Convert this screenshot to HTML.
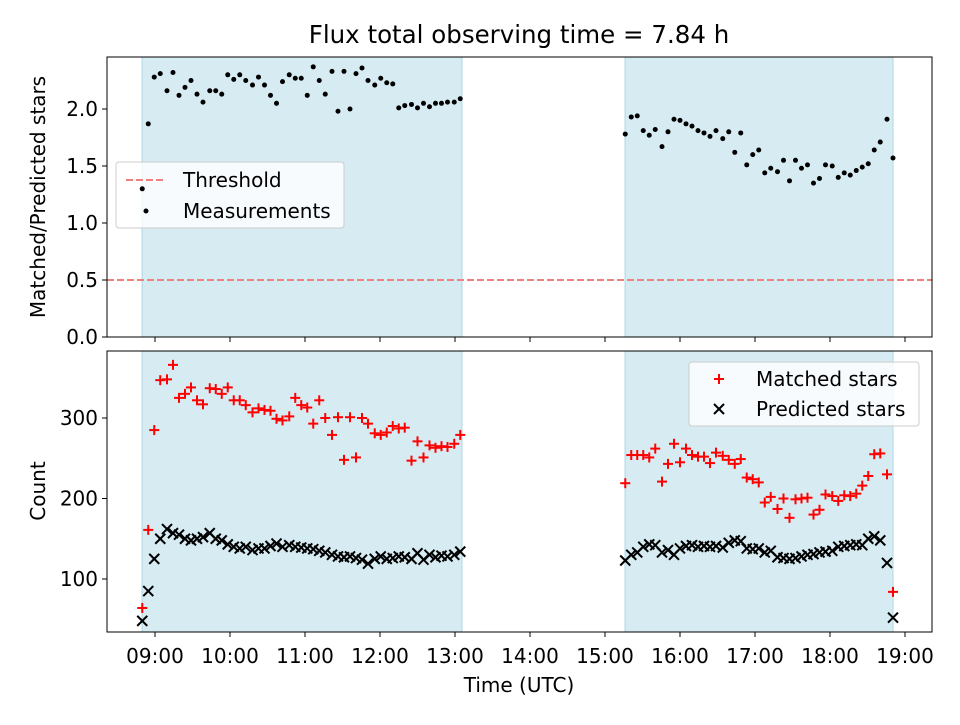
<!DOCTYPE html>
<html><head><meta charset="utf-8"><style>
body{margin:0;background:#fff;}
svg{font-family:"DejaVu Sans","Liberation Sans",sans-serif;}
</style></head><body>
<svg id="c" width="960" height="720" viewBox="0 0 960 720"></svg>
<script>
const times1=[8.83,8.91,8.99,9.07,9.16,9.24,9.32,9.40,9.48,9.56,9.64,9.73,9.81,9.89,9.97,10.05,10.13,10.21,10.30,10.38,10.46,10.54,10.62,10.70,10.79,10.87,10.95,11.03,11.11,11.19,11.27,11.36,11.44,11.52,11.60,11.68,11.76,11.84,11.93,12.01,12.09,12.17,12.25,12.33,12.42,12.50,12.58,12.66,12.74,12.82,12.90,12.99,13.07];
const times2=[15.27,15.35,15.43,15.51,15.59,15.67,15.76,15.84,15.92,16.00,16.08,16.16,16.24,16.32,16.40,16.48,16.57,16.65,16.73,16.81,16.89,16.97,17.05,17.13,17.21,17.30,17.38,17.46,17.54,17.62,17.70,17.78,17.86,17.94,18.03,18.11,18.19,18.27,18.35,18.43,18.51,18.59,18.67,18.76,18.84];
const ratio1=[1.30,1.87,2.28,2.31,2.16,2.32,2.12,2.19,2.25,2.13,2.06,2.16,2.16,2.13,2.30,2.26,2.30,2.25,2.21,2.28,2.21,2.12,2.05,2.24,2.30,2.27,2.27,2.12,2.37,2.25,2.13,2.33,1.98,2.33,2.00,2.31,2.36,2.25,2.21,2.27,2.23,2.22,2.01,2.03,2.04,2.01,2.05,2.02,2.05,2.05,2.06,2.06,2.09];
const ratio2=[1.78,1.93,1.94,1.81,1.77,1.82,1.67,1.80,1.91,1.90,1.87,1.85,1.81,1.79,1.76,1.81,1.74,1.80,1.62,1.79,1.51,1.60,1.64,1.44,1.48,1.45,1.55,1.37,1.55,1.48,1.51,1.35,1.39,1.51,1.50,1.40,1.44,1.42,1.46,1.49,1.52,1.64,1.71,1.91,1.57];
const matched1=[64,161,285,347,348,366,325,330,338,322,317,337,336,330,338,322,322,316,307,312,310,309,299,297,302,325,316,313,293,322,300,279,301,248,301,251,300,293,281,279,282,290,287,288,247,271,251,266,263,265,264,268,279];
const matched2=[219,254,254,254,251,262,221,243,268,245,262,254,252,252,244,257,253,248,243,249,226,224,220,195,202,187,200,176,199,200,201,180,186,205,203,197,204,203,206,216,228,255,256,230,84];
const predicted1=[48,85,125,150,162,157,155,150,148,150,152,157,150,148,143,140,138,140,136,138,138,141,144,140,142,140,139,138,137,135,133,130,128,127,128,126,124,119,125,128,125,126,128,127,125,132,124,130,127,129,128,130,134];
const predicted2=[123,130,133,140,143,142,133,136,130,138,141,142,140,141,140,141,139,145,148,147,138,137,138,133,135,127,126,125,126,128,130,131,133,134,135,140,141,142,143,142,150,153,148,120,52];
const spans=[[8.827,13.093],[15.267,18.84]];
const hourTicks=[9,10,11,12,13,14,15,16,17,18,19];
const ratioTicks=[0,0.5,1.0,1.5,2.0];
const countTicks=[100,200,300];
const threshold=0.5;

const svg=document.getElementById('c');
const NS='http://www.w3.org/2000/svg';
function el(tag,attrs,parent){const e=document.createElementNS(NS,tag);for(const k in attrs)e.setAttribute(k,attrs[k]);(parent||svg).appendChild(e);return e;}
const X=h=>155+(h-9)*75;
const Y1=v=>337-v*114;
const Y2=v=>579-(v-100)*0.805;
const L=107,R=932;
const FS=20;
const panels=[{t:57,b:337,Y:Y1,ticks:ratioTicks,fmt:v=>v.toFixed(1),name:'top'},{t:351,b:632,Y:Y2,ticks:countTicks,fmt:v=>String(v),name:'bottom'}];
panels.forEach(p=>{
  const g=el('g',{});
  
  
  spans.forEach(s=>{const r=el('rect',{x:X(s[0]),y:p.t,width:X(s[1])-X(s[0]),height:p.b-p.t,fill:'#add8e6','fill-opacity':0.5,stroke:'#add8e6'},g);
    });
  p.ticks.forEach(v=>{const y=p.Y(v);el('line',{x1:L-5,x2:L,y1:y,y2:y,stroke:'#000'},g);
    const t=el('text',{x:L-9,y:y+7,'text-anchor':'end','font-size':FS},g);t.textContent=p.fmt(v);
    });
  hourTicks.forEach(h=>{el('line',{x1:X(h),x2:X(h),y1:p.b,y2:p.b+5,stroke:'#000'},g);});
});
const th=el('line',{x1:L,x2:R,y1:Y1(threshold),y2:Y1(threshold),stroke:'#f08080','stroke-width':2,'stroke-dasharray':'7,3'});

function plus(x,y,col,name){const g=el('g',{stroke:col,'stroke-width':2});el('line',{x1:x-5,x2:x+5,y1:y,y2:y},g);el('line',{x1:x,x2:x,y1:y-5,y2:y+5},g);
  return g;}
function cross(x,y,name){const g=el('g',{stroke:'#000','stroke-width':2});el('line',{x1:x-5,x2:x+5,y1:y-5,y2:y+5},g);el('line',{x1:x-5,x2:x+5,y1:y+5,y2:y-5},g);
  return g;}
function txt(s,attrs,name){const t=el('text',attrs);t.textContent=s;return t;}
const lg1=el('g',{});
el('rect',{x:116,y:162,width:228,height:66,rx:3,fill:'#fff','fill-opacity':0.8,stroke:'#ccc'},lg1);
el('line',{x1:126,x2:166,y1:180,y2:180,stroke:'#f08080','stroke-width':2,'stroke-dasharray':'7,3'},lg1);
el('circle',{cx:146,cy:211,r:2.5,fill:'#000'},lg1);
txt('Threshold',{x:183,y:187,'font-size':FS},'legend-threshold');
txt('Measurements',{x:183,y:218,'font-size':FS},'legend-measurements');
[[times1,ratio1],[times2,ratio2]].forEach(([t,v])=>t.forEach((h,i)=>{const c=el('circle',{cx:X(h),cy:Y1(v[i]),r:2.5,fill:'#000'});
  }));
[[times1,predicted1],[times2,predicted2]].forEach(([t,v])=>t.forEach((h,i)=>cross(X(h),Y2(v[i]),'predicted-point')));
[[times1,matched1],[times2,matched2]].forEach(([t,v])=>t.forEach((h,i)=>plus(X(h),Y2(v[i]),'#f00','matched-point')));
panels.forEach(p=>{el('rect',{x:L,y:p.t,width:R-L,height:p.b-p.t,fill:'none',stroke:'#000','stroke-width':1});});
hourTicks.forEach(h=>{const t=el('text',{x:X(h),y:663,'text-anchor':'middle','font-size':FS});t.textContent=(h<10?'0':'')+h+':00';
  });
txt('Flux total observing time = 7.84 h',{x:519,y:43,'text-anchor':'middle','font-size':24.5},'chart-title');
txt('Time (UTC)',{x:519,y:692,'text-anchor':'middle','font-size':FS},'x-axis-title');
txt('Matched/Predicted stars',{x:0,y:0,transform:'translate(45,197) rotate(-90)','text-anchor':'middle','font-size':FS},'top-y-axis-title');
txt('Count',{x:0,y:0,transform:'translate(45,491) rotate(-90)','text-anchor':'middle','font-size':FS},'bottom-y-axis-title');
const lg2=el('g',{});
el('rect',{x:689,y:362,width:230,height:64,rx:3,fill:'#fff','fill-opacity':0.8,stroke:'#ccc'},lg2);
plus(719,379,'#f00','legend-matched-marker');
cross(719,409,'legend-predicted-marker');
txt('Matched stars',{x:756,y:386,'font-size':FS},'legend-matched');
txt('Predicted stars',{x:756,y:416,'font-size':FS},'legend-predicted');
</script>
</body></html>
